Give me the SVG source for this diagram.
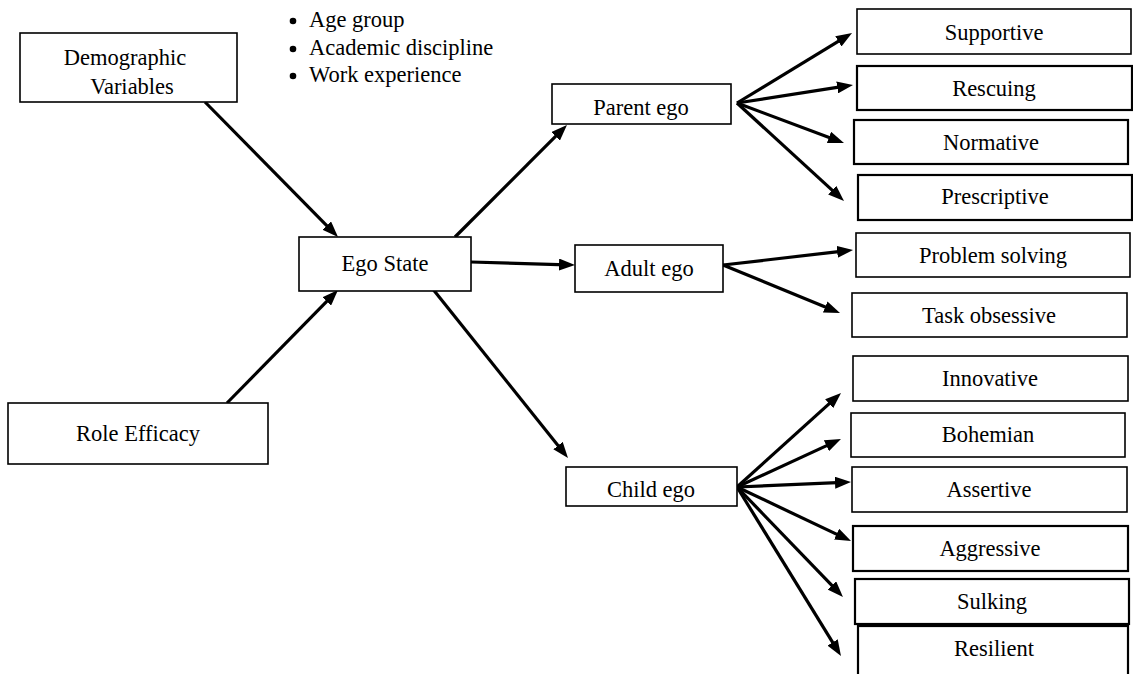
<svg xmlns="http://www.w3.org/2000/svg" width="1133" height="674" viewBox="0 0 1133 674">
<style>
.box{fill:#fff;stroke:#000;stroke-width:1.6}
.thk{stroke-width:2.2}
.t{font-family:"Liberation Serif","Times New Roman",serif;font-size:22.5px;fill:#000;text-anchor:middle}
.b{font-family:"Liberation Serif","Times New Roman",serif;font-size:22.5px;fill:#000}
.c line{stroke:#000;stroke-width:3.2;marker-end:url(#ah)}
</style>
<defs>
<marker id="ah" markerUnits="userSpaceOnUse" markerWidth="16" markerHeight="12" refX="8" refY="6" orient="auto">
<path d="M0,0 L16,6 L0,12 Z" fill="#000"/>
</marker>
</defs>
<rect width="1133" height="674" fill="#fff"/>

<g id="bullets">
<circle cx="293" cy="21" r="3.3"/>
<circle cx="293" cy="49" r="3.3"/>
<circle cx="293" cy="76" r="3.3"/>
<text class="b" x="309" y="27">Age group</text>
<text class="b" x="309" y="54.5">Academic discipline</text>
<text class="b" x="309" y="82">Work experience</text>
</g>

<g class="c" id="connectors">
<line x1="205" y1="102" x2="332.4" y2="231.3"/>
<line x1="227" y1="403" x2="332.4" y2="295.7"/>
<line x1="455" y1="237" x2="561.3" y2="130.7"/>
<line x1="471" y1="262" x2="567" y2="264.8"/>
<line x1="432" y1="288" x2="563" y2="451.8"/>
<line x1="737" y1="103" x2="845.2" y2="37.2"/>
<line x1="737" y1="103" x2="845.1" y2="86.2"/>
<line x1="737" y1="103" x2="836.5" y2="140.2"/>
<line x1="737" y1="103" x2="838.1" y2="195.6"/>
<line x1="723" y1="265" x2="845.1" y2="250.9"/>
<line x1="723" y1="265" x2="832.6" y2="310"/>
<line x1="737" y1="487" x2="835.1" y2="398.4"/>
<line x1="737" y1="487" x2="833.7" y2="442.4"/>
<line x1="737" y1="487" x2="843" y2="482.4"/>
<line x1="737" y1="487" x2="843.8" y2="537.6"/>
<line x1="737" y1="487" x2="837.4" y2="591.2"/>
<line x1="737" y1="487" x2="836.8" y2="649.2"/>
</g>

<g id="demographic">
<rect class="box" x="20" y="33" width="217" height="69"/>
<text class="t" x="125" y="65">Demographic</text>
<text class="t" x="132" y="94">Variables</text>
</g>
<g id="role-efficacy">
<rect class="box" x="8" y="403" width="260" height="61"/>
<text class="t" x="138" y="441">Role Efficacy</text>
</g>
<g id="ego-state">
<rect class="box" x="299" y="237" width="172" height="54"/>
<text class="t" x="385" y="271">Ego State</text>
</g>
<g id="parent-ego">
<rect class="box" x="552" y="84" width="179" height="40"/>
<text class="t" x="641" y="115">Parent ego</text>
</g>
<g id="adult-ego">
<rect class="box" x="575" y="245" width="148" height="47"/>
<text class="t" x="649" y="276">Adult ego</text>
</g>
<g id="child-ego">
<rect class="box" x="566" y="467" width="171" height="39"/>
<text class="t" x="651" y="497">Child ego</text>
</g>

<g id="supportive">
<rect class="box" x="857" y="9" width="274" height="45"/>
<text class="t" x="994" y="40">Supportive</text>
</g>
<g id="rescuing">
<rect class="box thk" x="857" y="66" width="275" height="44"/>
<text class="t" x="994" y="96">Rescuing</text>
</g>
<g id="normative">
<rect class="box thk" x="854" y="120" width="274" height="44"/>
<text class="t" x="991" y="150">Normative</text>
</g>
<g id="prescriptive">
<rect class="box thk" x="858" y="175" width="274" height="45"/>
<text class="t" x="995" y="204">Prescriptive</text>
</g>
<g id="problem-solving">
<rect class="box" x="856" y="233" width="274" height="44"/>
<text class="t" x="993" y="263">Problem solving</text>
</g>
<g id="task-obsessive">
<rect class="box" x="852" y="293" width="275" height="44"/>
<text class="t" x="989" y="323">Task obsessive</text>
</g>
<g id="innovative">
<rect class="box" x="853" y="356" width="275" height="45"/>
<text class="t" x="990" y="386">Innovative</text>
</g>
<g id="bohemian">
<rect class="box" x="851" y="413" width="274" height="44"/>
<text class="t" x="988" y="442">Bohemian</text>
</g>
<g id="assertive">
<rect class="box" x="852" y="467" width="275" height="45"/>
<text class="t" x="989" y="497">Assertive</text>
</g>
<g id="aggressive">
<rect class="box thk" x="853" y="526" width="275" height="45"/>
<text class="t" x="990" y="556">Aggressive</text>
</g>
<g id="sulking">
<rect class="box thk" x="855" y="579" width="274" height="45"/>
<text class="t" x="992" y="609">Sulking</text>
</g>
<g id="resilient">
<rect class="box thk" x="858" y="626" width="270" height="60"/>
<text class="t" x="994" y="656">Resilient</text>
</g>
</svg>
